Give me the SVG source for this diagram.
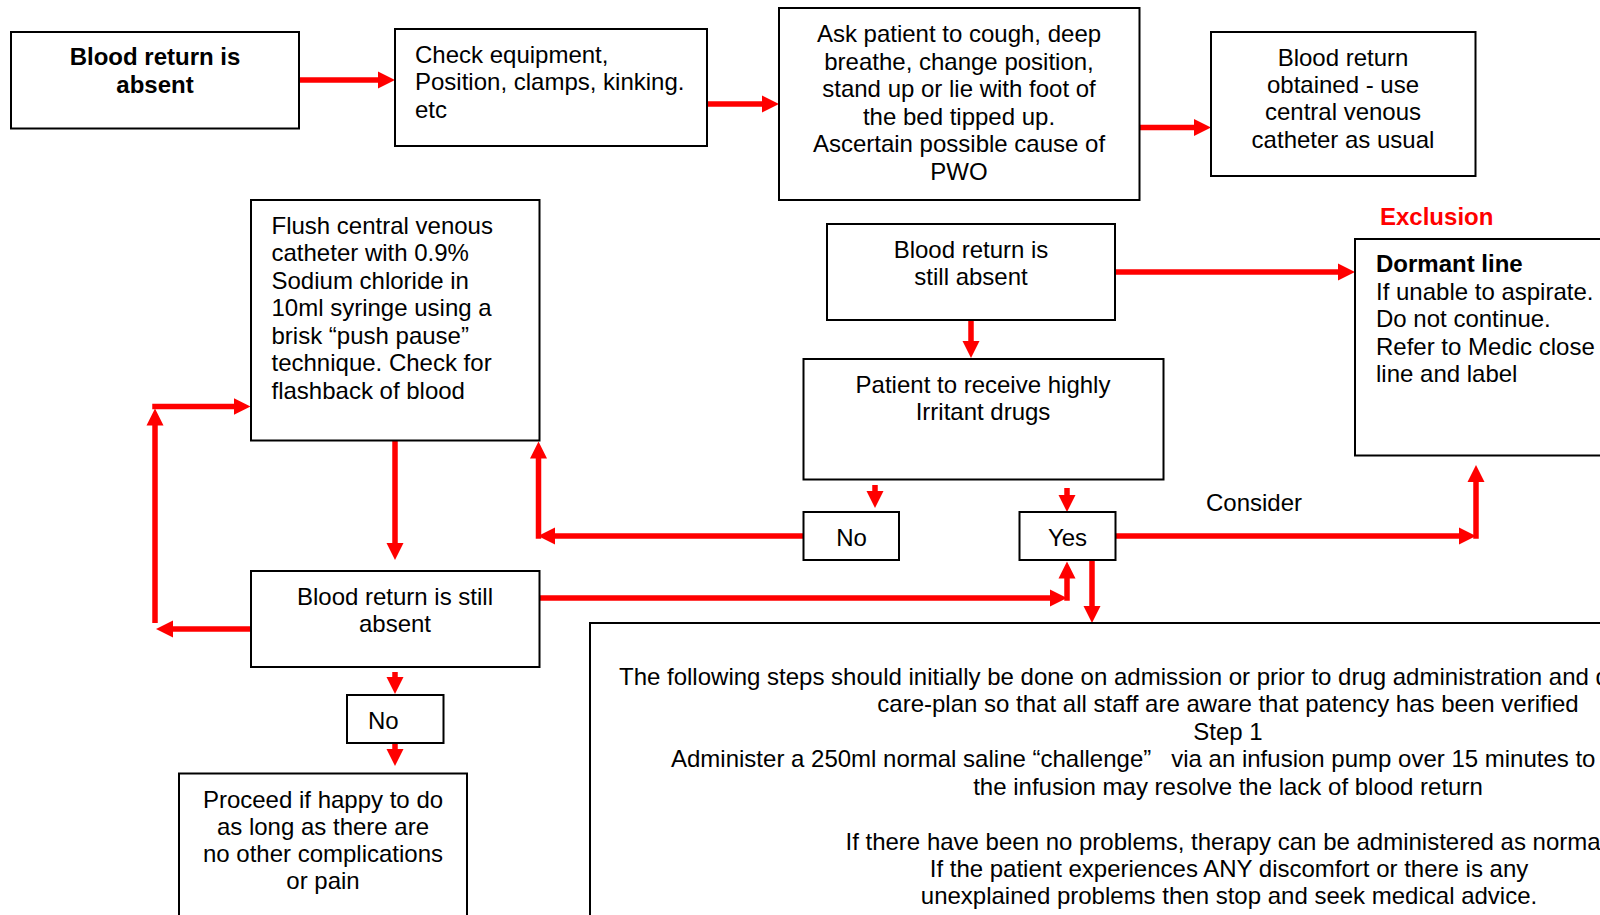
<svg xmlns="http://www.w3.org/2000/svg" width="1600" height="915" viewBox="0 0 1600 915">
<style>
.box{fill:#fff;stroke:#000;stroke-width:2}
text{font-family:"Liberation Sans",Arial,sans-serif;font-size:24px;fill:#000}
.c{text-anchor:middle}
.b{font-weight:bold}
.red{fill:#ff0000}
.con{stroke:#ff0000;stroke-width:5.5;fill:none;stroke-linecap:butt}
.pre{white-space:pre}
</style>
<defs>
<marker id="ah" markerUnits="userSpaceOnUse" markerWidth="18" markerHeight="18" refX="9" refY="8.5" orient="auto" viewBox="0 0 18 17">
<path d="M0,0 L17,8.5 L0,17 Z" fill="#ff0000"/>
</marker>
</defs>
<rect width="1600" height="915" fill="#fff"/>

<g id="connectors">
<line class="con" x1="299" y1="80" x2="387" y2="80" marker-end="url(#ah)"/>
<line class="con" x1="707" y1="104" x2="771" y2="104" marker-end="url(#ah)"/>
<line class="con" x1="1139" y1="127.5" x2="1203" y2="127.5" marker-end="url(#ah)"/>
<line class="con" x1="1115" y1="272" x2="1347" y2="272" marker-end="url(#ah)"/>
<line class="con" x1="971" y1="320" x2="971" y2="350" marker-end="url(#ah)"/>
<line class="con" x1="875" y1="485" x2="875" y2="500" marker-end="url(#ah)"/>
<line class="con" x1="1067" y1="488" x2="1067" y2="504" marker-end="url(#ah)"/>
<line class="con" x1="803" y1="536" x2="546" y2="536" marker-end="url(#ah)"/>
<line class="con" x1="538.5" y1="538.75" x2="538.5" y2="449.5" marker-end="url(#ah)"/>
<line class="con" x1="395" y1="440.5" x2="395" y2="552" marker-end="url(#ah)"/>
<line class="con" x1="251" y1="629" x2="164" y2="629" marker-end="url(#ah)"/>
<line class="con" x1="155" y1="623" x2="155" y2="416.5" marker-end="url(#ah)"/>
<line class="con" x1="152.25" y1="406.5" x2="242.5" y2="406.5" marker-end="url(#ah)"/>
<line class="con" x1="539.5" y1="598" x2="1059" y2="598" marker-end="url(#ah)"/>
<line class="con" x1="1067" y1="600.75" x2="1067" y2="569.5" marker-end="url(#ah)"/>
<line class="con" x1="1092" y1="560" x2="1092" y2="615" marker-end="url(#ah)"/>
<line class="con" x1="1115.5" y1="536" x2="1468" y2="536" marker-end="url(#ah)"/>
<line class="con" x1="1476" y1="538.75" x2="1476" y2="473" marker-end="url(#ah)"/>
<line class="con" x1="395" y1="672" x2="395" y2="686" marker-end="url(#ah)"/>
<line class="con" x1="395" y1="743" x2="395" y2="758" marker-end="url(#ah)"/>
</g>

<g id="n1">
<rect class="box" x="11" y="32" width="288" height="96.5"/>
<text class="c b" x="155" y="65">Blood return is</text>
<text class="c b" x="155" y="92.5">absent</text>
</g>

<g id="n2">
<rect class="box" x="395" y="29" width="312" height="117"/>
<text x="415" y="62.5">Check equipment,</text>
<text x="415" y="90">Position, clamps, kinking.</text>
<text x="415" y="117.5">etc</text>
</g>

<g id="n3">
<rect class="box" x="779" y="8" width="360.5" height="192"/>
<text class="c" x="959" y="42">Ask patient to cough, deep</text>
<text class="c" x="959" y="69.5">breathe, change position,</text>
<text class="c" x="959" y="97">stand up or lie with foot of</text>
<text class="c" x="959" y="124.5">the bed tipped up.</text>
<text class="c" x="959" y="152">Ascertain possible cause of</text>
<text class="c" x="959" y="179.5">PWO</text>
</g>

<g id="n4">
<rect class="box" x="1211" y="32" width="264.5" height="144"/>
<text class="c" x="1343" y="66">Blood return</text>
<text class="c" x="1343" y="93">obtained - use</text>
<text class="c" x="1343" y="120">central venous</text>
<text class="c" x="1343" y="147.5">catheter as usual</text>
</g>

<g id="n5">
<rect class="box" x="251" y="200" width="288.5" height="240.5"/>
<text x="271.5" y="233.5">Flush central venous</text>
<text x="271.5" y="261">catheter with 0.9%</text>
<text x="271.5" y="288.5">Sodium chloride in</text>
<text x="271.5" y="316">10ml syringe using a</text>
<text x="271.5" y="343.5">brisk “push pause”</text>
<text x="271.5" y="371">technique. Check for</text>
<text x="271.5" y="398.5">flashback of blood</text>
</g>

<g id="n6">
<rect class="box" x="827" y="224" width="288" height="96"/>
<text class="c" x="971" y="257.5">Blood return is</text>
<text class="c" x="971" y="285">still absent</text>
</g>

<g id="n7">
<text class="b red" x="1380" y="224.5">Exclusion</text>
<rect class="box" x="1355" y="239" width="300" height="216.5"/>
<text class="b" x="1376" y="272">Dormant line</text>
<text x="1376" y="299.5">If unable to aspirate.</text>
<text x="1376" y="327">Do not continue.</text>
<text x="1376" y="354.5">Refer to Medic close</text>
<text x="1376" y="382">line and label</text>
</g>

<g id="n8">
<rect class="box" x="803.5" y="359" width="360" height="120.5"/>
<text class="c" x="983" y="393">Patient to receive highly</text>
<text class="c" x="983" y="420">Irritant drugs</text>
</g>

<g id="n9">
<rect class="box" x="803.5" y="512" width="95.5" height="48"/>
<text class="c" x="851.5" y="546">No</text>
</g>

<g id="n10">
<rect class="box" x="1019.5" y="512" width="96" height="48"/>
<text class="c" x="1067.5" y="546">Yes</text>
</g>

<g id="label-consider">
<text x="1206" y="510.5">Consider</text>
</g>

<g id="n11">
<rect class="box" x="251" y="571" width="288.5" height="96"/>
<text class="c" x="395" y="604.5">Blood return is still</text>
<text class="c" x="395" y="632">absent</text>
</g>

<g id="n12">
<rect class="box" x="347" y="695" width="96.5" height="48"/>
<text x="368" y="729">No</text>
</g>

<g id="n13">
<rect class="box" x="179" y="773.5" width="288" height="160"/>
<text class="c" x="323" y="807.5">Proceed if happy to do</text>
<text class="c" x="323" y="834.5">as long as there are</text>
<text class="c" x="323" y="862">no other complications</text>
<text class="c" x="323" y="889">or pain</text>
</g>

<g id="n14">
<rect class="box" x="590" y="623" width="1050" height="320"/>
<text x="619" y="684.5">The following steps should initially be done on admission or prior to drug administration and d</text>
<text class="c" x="1228" y="712">care-plan so that all staff are aware that patency has been verified</text>
<text class="c" x="1228" y="739.5">Step 1</text>
<text class="pre" x="671" y="767">Administer a 250ml normal saline “challenge”   via an infusion pump over 15 minutes to</text>
<text class="c" x="1228" y="794.5">the infusion may resolve the lack of blood return</text>
<text x="845.5" y="849.5">If there have been no problems, therapy can be administered as norma</text>
<text class="c" x="1229" y="877">If the patient experiences ANY discomfort or there is any</text>
<text class="c" x="1229" y="904">unexplained problems then stop and seek medical advice.</text>
</g>
</svg>
